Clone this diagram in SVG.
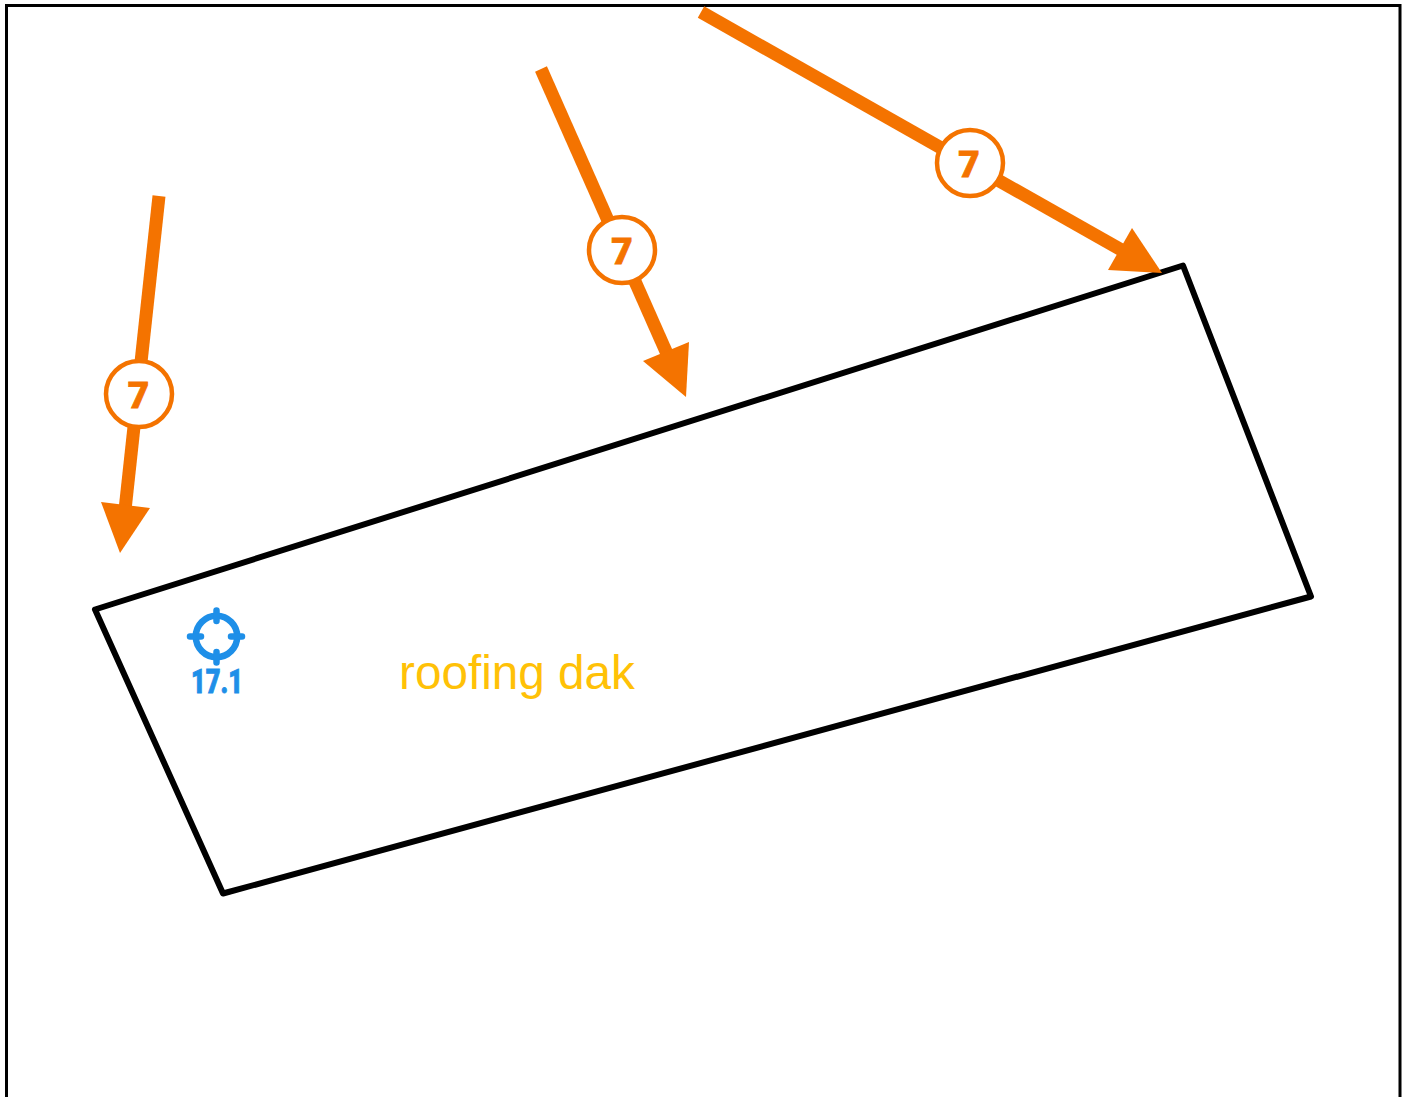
<svg xmlns="http://www.w3.org/2000/svg" width="1405" height="1097" viewBox="0 0 1405 1097">
<style>
.shaft{stroke:#f47300;stroke-width:13;fill:none}
.head{fill:#f47300}
.badge{fill:#fff;stroke:#f47300;stroke-width:4.5}
.num{font-family:Roboto,"Liberation Sans",sans-serif;font-weight:900;font-size:37px;fill:#f47300;stroke:#f47300;stroke-width:.8;text-anchor:middle}
.tgt{stroke:#1e8fe8;fill:none}
</style>
<rect width="1405" height="1097" fill="#fff"/>
<path d="M6.5 1097V5.5H1400V1097" fill="none" stroke="#000" stroke-width="3"/>
<g id="roof"><polygon points="95,609.5 1183,265.5 1311,596.5 223,893.5" fill="#fff" stroke="#000" stroke-width="6" stroke-linejoin="round"/></g>
<g id="connectors">
<line class="shaft" x1="159" y1="196" x2="125" y2="510"/><polygon class="head" points="120,553 101,502 150,508"/>
<line class="shaft" x1="541" y1="69" x2="668" y2="356"/><polygon class="head" points="686,397 643,361 689,342"/>
<line class="shaft" x1="701" y1="12" x2="1125" y2="252"/><polygon class="head" points="1162,273 1108,270 1132,228"/>
</g>
<g id="badge-1"><circle class="badge" cx="139" cy="394" r="33"/><text class="num" x="138.5" y="407.5">7</text></g>
<g id="badge-2"><circle class="badge" cx="622" cy="250" r="33"/><text class="num" x="622" y="263.5">7</text></g>
<g id="badge-3"><circle class="badge" cx="970" cy="163" r="33"/><text class="num" x="969" y="176.5">7</text></g>
<g id="target">
<circle class="tgt" cx="216.5" cy="636.5" r="20.7" stroke-width="6.5"/>
<path class="tgt" d="M216.5 610.5V621M216.5 652V662.5M190 636.5H201M231 636.5H242" stroke-width="6.5" stroke-linecap="round"/>
<text x="191" y="693" textLength="52" lengthAdjust="spacingAndGlyphs" font-family="Roboto,'Liberation Sans',sans-serif" font-weight="900" font-size="33" fill="#1e8fe8" stroke="#1e8fe8" stroke-width=".9">17.1</text>
</g>
<g id="label"><text x="399" y="689" font-family="'Liberation Sans',Arial,sans-serif" font-size="47.7" fill="#ffc107">roofing dak</text></g>
</svg>
